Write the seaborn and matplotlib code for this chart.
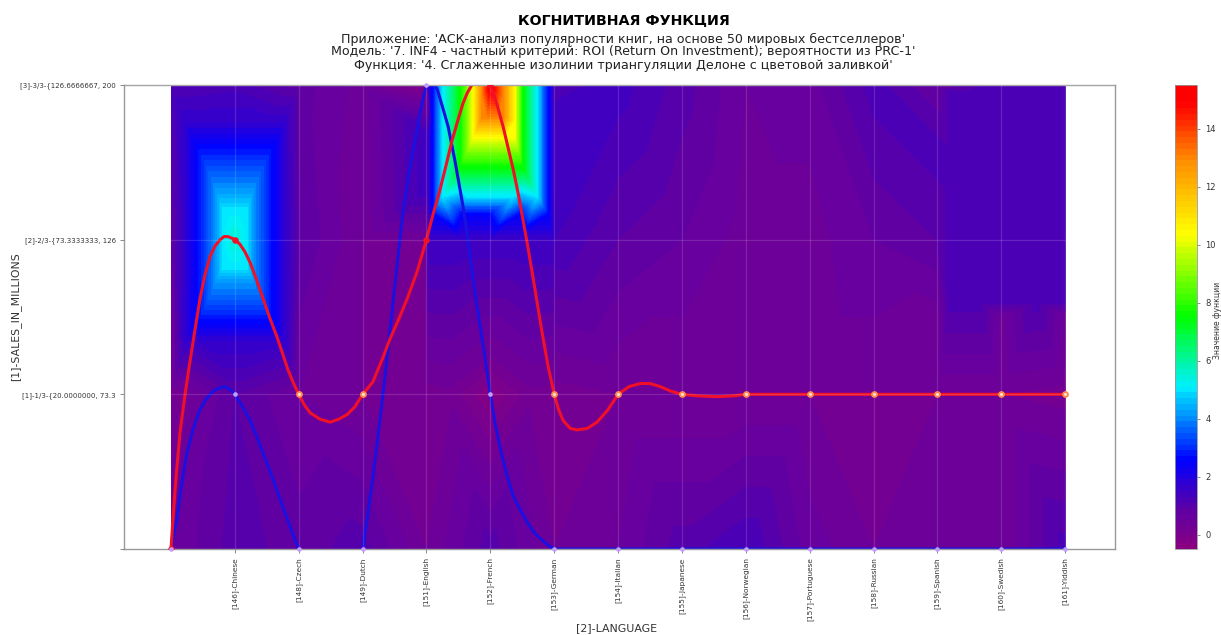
import numpy as np
import matplotlib
matplotlib.use("Agg")
import matplotlib.pyplot as plt
import matplotlib.tri as mtri
from matplotlib.colors import LinearSegmentedColormap
import seaborn as sns

languages = ["[146]-Chinese", "[148]-Czech", "[149]-Dutch", "[151]-English", "[152]-French",
             "[153]-German", "[154]-Italian", "[155]-Japanese", "[156]-Norwegian",
             "[157]-Portuguese", "[158]-Russian", "[159]-Spanish", "[160]-Swedish", "[161]-Yiddish"]
sales_labels = ["", "[1]-1/3-{20.0000000, 73.3", "[2]-2/3-{73.3333333, 126", "[3]-3/3-{126.6666667, 200"]

# surface values, one row per y class, columns are x = 0..14
z_row0 = [0.5, 1.0, 0.8, 1.0, 0.3, 1.0, 0.3, 0.5, 1.0, 1.3, 0.6, 0.3, 0.5, 0.3, 1.2]
z_row1 = [0.1, 0.9, 0.5, 0.3, 0.2, 0.2, 0.2, 0.3, 0.3, 0.3, 0.3, 0.3, 0.3, 0.3, 0.2]
z_row2 = [0.7, 5.5, 0.9, 0.3, 0.3, 1.5, 1.3, 0.9, 0.7, 0.4, 0.4, 0.7, 0.9, 1.2, 1.2]
z_row3 = [1.1, 1.2, 0.8, 0.4, -0.2, 15.5, 1.2, 1.4, 1.0, 0.5, 0.6, 1.2, 0.7, 1.3, 1.3]

# isoline rings around the peaks: left, right, bottom, top, level
chinese_rings = [
    (0.22, 1.78, 1.35, 2.75, 1.7),
    (0.50, 1.50, 1.53, 2.53, 3.0),
    (0.61, 1.39, 1.63, 2.42, 3.6),
    (0.72, 1.27, 1.74, 2.31, 4.2),
    (0.81, 1.19, 1.82, 2.19, 5.0),
]
french_rings = [
    (4.03, 5.98, 2.00, 3.0, 1.5),
    (4.10, 5.90, 2.17, 3.0, 2.6),
    (4.26, 5.73, 2.28, 3.0, 5.0),
    (4.53, 5.51, 2.47, 3.0, 7.5),
    (4.73, 5.39, 2.66, 3.0, 10.3),
    (4.87, 5.20, 2.79, 3.0, 13.0),
]
other_rings = [
    (12.2, 14.0, 1.60, 2.95, 1.2),
]

# single extra readings: the crimson patch under French, the edge under the Swedish block
extra_x = [5.0, 4.35, 5.65, 5.0, 12.0, 13.0, 14.0]
extra_y = [1.0, 1.0, 1.0, 1.25, 1.5, 1.5, 1.5]
extra_z = [-0.3, 0.25, 0.25, 0.3, 0.4, 0.4, 0.4]

# curves
red_x = [0, 0.03, 0.08, 0.14, 0.22, 0.30, 0.38, 0.45, 0.53, 0.61, 0.69, 0.77, 0.83, 0.89, 0.95, 1, 1.08, 1.16,
         1.24, 1.34, 1.44, 1.55, 1.66, 1.75, 1.83, 1.92, 2, 2.09, 2.18, 2.33, 2.49, 2.63, 2.76, 2.88, 3, 3.16,
         3.32, 3.43, 3.56, 3.70, 3.85, 4, 4.10, 4.21, 4.30, 4.40, 4.49, 4.57, 4.64, 4.71, 4.79, 4.87, 4.94, 5,
         5.10, 5.20, 5.28, 5.36, 5.44, 5.51, 5.58, 5.65, 5.73, 5.81, 5.90, 6, 6.07, 6.14, 6.25, 6.36, 6.52, 6.67,
         6.84, 7, 7.17, 7.35, 7.5, 7.66, 7.83, 8, 8.25, 8.55, 8.8, 9, 10, 11, 12, 13, 14]
red_y = [0, 0.19, 0.47, 0.75, 1.00, 1.22, 1.43, 1.61, 1.77, 1.89, 1.96, 2.00, 2.02, 2.02, 2.01, 2, 1.97, 1.92,
         1.85, 1.74, 1.62, 1.49, 1.37, 1.26, 1.16, 1.07, 1, 0.93, 0.88, 0.84, 0.82, 0.84, 0.87, 0.92, 1, 1.08,
         1.24, 1.36, 1.48, 1.62, 1.79, 2, 2.16, 2.32, 2.47, 2.64, 2.77, 2.88, 2.95, 3.00, 3.04, 3.06, 3.04, 3,
         2.88, 2.73, 2.59, 2.45, 2.29, 2.13, 1.97, 1.80, 1.60, 1.40, 1.19, 1, 0.90, 0.83, 0.78, 0.77, 0.78, 0.82,
         0.90, 1, 1.05, 1.07, 1.07, 1.05, 1.02, 1, 0.99, 0.985, 0.99, 1, 1, 1, 1, 1, 1]
blue_x = [0, 0.04, 0.09, 0.16, 0.25, 0.35, 0.45, 0.55, 0.66, 0.75, 0.85, 0.93, 1, 1.12, 1.24, 1.34, 1.44, 1.58,
          1.71, 1.85, 2, 2.33, 2.73, 3, 3.08, 3.16, 3.22, 3.29, 3.36, 3.43, 3.53, 3.63, 3.72, 3.82, 3.89, 3.95, 4,
          4.05, 4.09, 4.17, 4.25, 4.34, 4.45, 4.57, 4.65, 4.73, 4.81, 4.89, 5, 5.07, 5.15, 5.25, 5.36, 5.47, 5.58,
          5.70, 5.83, 5.92, 6, 7, 8, 9, 10, 11, 12, 13, 14]
blue_y = [0, 0.09, 0.19, 0.40, 0.62, 0.78, 0.90, 0.97, 1.02, 1.04, 1.05, 1.03, 1, 0.92, 0.83, 0.73, 0.62, 0.47,
          0.32, 0.16, 0, -0.08, -0.08, 0, 0.22, 0.46, 0.66, 0.90, 1.15, 1.42, 1.80, 2.17, 2.42, 2.64, 2.80, 2.92, 3,
          3.03, 3.03, 2.97, 2.86, 2.73, 2.50, 2.22, 2.00, 1.74, 1.52, 1.31, 1, 0.82, 0.66, 0.49, 0.34, 0.25, 0.17,
          0.10, 0.05, 0.02, 0, 0, 0, 0, 0, 0, 0, 0, 0]

# class chosen for each language (index 0 is the start of the curve)
red_marks = [0, 2, 1, 1, 2, 3, 1, 1, 1, 1, 1, 1, 1, 1, 1]
blue_marks = [0, 1, 0, 0, 3, 1, 0, 0, 0, 0, 0, 0, 0, 0, 0]


def ring_points(left, right, bottom, top, level):
    # the top edge of a ring cut by the axis gets only its corners, the peak sits there
    xs = np.linspace(left, right, 5)
    ys = np.linspace(bottom, top, 4)
    pts = [(px, bottom) for px in xs]
    pts += [(side, py) for side in (left, right) for py in ys[1:]]
    if top < 3:
        pts += [(px, top) for px in xs[1:-1]]
    return [(px, py, level) for px, py in pts]


pts = []
for row_y, row in enumerate([z_row0, z_row1, z_row2, z_row3]):
    for col_x, val in enumerate(row):
        if not (col_x == 5 and row_y == 1):  # read separately in extra_*
            pts.append((col_x, row_y, val))
for ring in chinese_rings + french_rings + other_rings:
    pts.extend(ring_points(*ring))
pts.extend(zip(extra_x, extra_y, extra_z))
pts = np.array(pts)

sns.set_style("white")
plt.rcParams["font.family"] = ["DejaVu Sans"]

cmap = LinearSegmentedColormap.from_list("kogn", [
    (0.0, "#8b0080"), (0.09, "#5a00a8"), (0.19, "#0000ff"), (0.35, "#00f0ff"),
    (0.50, "#00ff00"), (0.68, "#ffff00"), (0.84, "#ff8c00"), (0.96, "#ff0000"), (1.0, "#ff0000")])

fig = plt.figure(figsize=(12.21, 6.35), dpi=100)
W, H = 1221, 635
ax = fig.add_axes([124 / W, 1 - 549 / H, (1115 - 124) / W, (549 - 85) / H])
cax = fig.add_axes([1175 / W, 1 - 549 / H, 22 / W, (549 - 85) / H])

tri = mtri.Triangulation(pts[:, 0], pts[:, 1])
levels = np.linspace(-0.5, 15.5, 81)
cf = ax.tricontourf(tri, pts[:, 2], levels=levels, cmap=cmap)

sns.lineplot(x=blue_x, y=blue_y, sort=False, estimator=None, color="#1a10e0", lw=2.2, ax=ax)
sns.lineplot(x=red_x, y=red_y, sort=False, estimator=None, color="#f01028", lw=2.2, ax=ax)

marks_x = np.arange(15)
red_arr = np.array(red_marks)
on_line = red_arr == 1
sns.scatterplot(x=marks_x[on_line], y=red_arr[on_line], color="#ff8a50", s=24, linewidth=0, ax=ax, zorder=4)
sns.scatterplot(x=marks_x[on_line], y=red_arr[on_line], color="#ffe0d0", s=5, linewidth=0, ax=ax, zorder=5)
sns.scatterplot(x=marks_x[~on_line], y=red_arr[~on_line], color="#f01028", s=22, linewidth=0, ax=ax, zorder=4)
sns.scatterplot(x=marks_x, y=blue_marks, color="#c49bff", s=11, linewidth=0, ax=ax, zorder=6, clip_on=False)

ax.set_xlim(-0.736, 14.78)
ax.set_ylim(0, 3)
ax.set_xticks(range(1, 15))
ax.set_xticklabels(languages, rotation=90, fontsize=5.3, color="#333333")
ax.set_yticks(range(4))
ax.set_yticklabels(sales_labels, fontsize=5.0, color="#333333")
ax.tick_params(axis="both", length=3, width=0.6, color="#777777", bottom=True, left=True, pad=3)
ax.grid(True, color="white", alpha=0.14, lw=0.9)
ax.set_axisbelow(False)
for sp in ax.spines.values():
    sp.set_color("#999999")
    sp.set_linewidth(1.0)
ax.set_xlabel("[2]-LANGUAGE", fontsize=7.9, color="#333333", labelpad=0)
ax.xaxis.set_label_coords(0.497, -0.16)
ax.set_ylabel("[1]-SALES_IN_MILLIONS", fontsize=7.8, color="#333333")
ax.yaxis.set_label_coords(-0.104, 0.5)

cb = fig.colorbar(cf, cax=cax, ticks=range(0, 15, 2))
cb.ax.tick_params(labelsize=6, length=2.5, width=0.6, color="#777777", labelcolor="#333333")
cb.outline.set_edgecolor("#999999")
cb.outline.set_linewidth(0.6)
fig.text(1213 / W, 1 - 320 / H, "Значение функции", rotation=90, fontsize=5.5, color="#333333", ha="left", va="center")

fig.text(623.5 / W, 1 - 20 / H, "КОГНИТИВНАЯ ФУНКЦИЯ", ha="center", va="center", fontsize=10.3, fontweight="bold", color="black")
subtitle = ["Приложение: 'АСК-анализ популярности книг, на основе 50 мировых бестселлеров'",
            "Модель: '7. INF4 - частный критерий: ROI (Return On Investment); вероятности из PRC-1'",
            "Функция: '4. Сглаженные изолинии триангуляции Делоне с цветовой заливкой'"]
for text_y, line in zip([39, 52, 66], subtitle):
    fig.text(623.5 / W, 1 - text_y / H, line, ha="center", va="center", fontsize=9.1, color="#222222")

fig.savefig("out.png", dpi=100)
